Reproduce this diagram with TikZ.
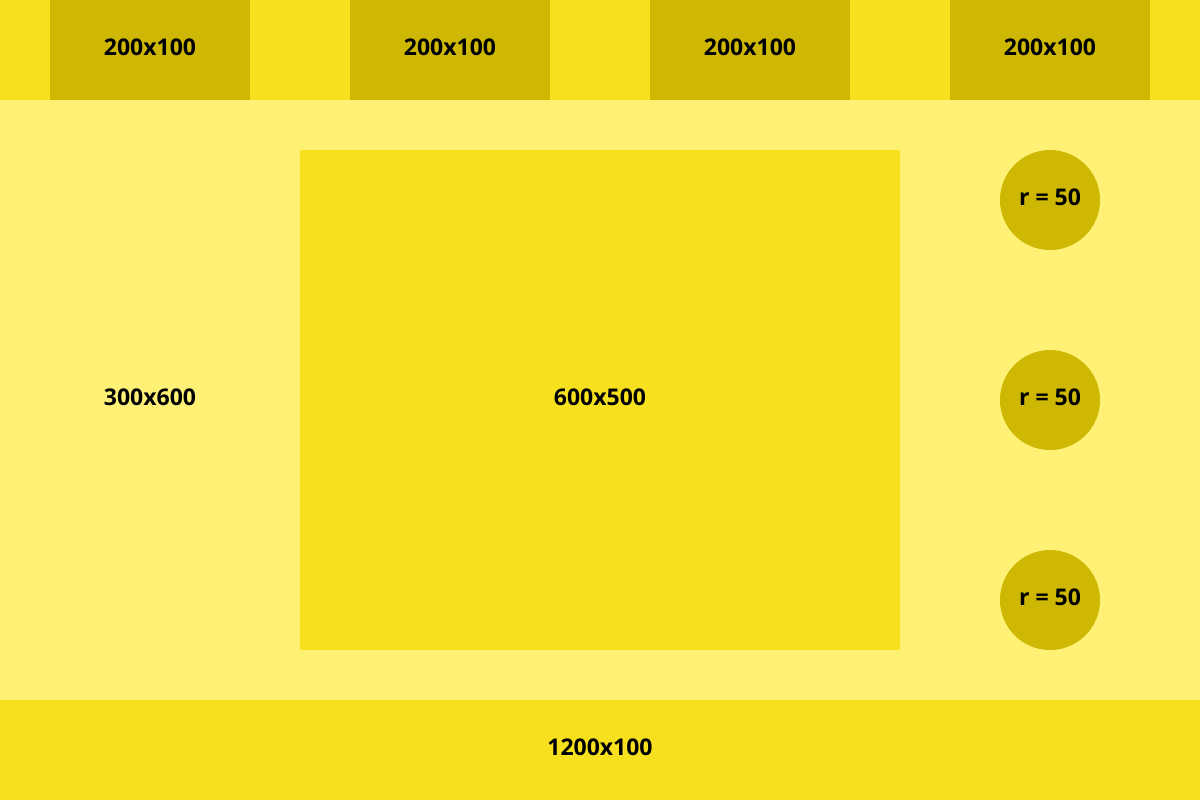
\documentclass[tikz,border=0pt]{standalone}
\usepackage{fontspec}
\setmainfont{Open Sans}
\definecolor{ymid}{HTML}{F7E11E}
\definecolor{ydark}{HTML}{CFB803}
\definecolor{ylight}{HTML}{FFF176}
\begin{document}
\begin{tikzpicture}[x=0.5pt,y=-0.5pt,
  lbl/.style={font=\bfseries\fontsize{11.5}{13}\selectfont, text=black, text depth=3pt},
  topbox/.style={fill=ydark, draw=none, minimum width=100pt, minimum height=50pt, inner sep=0pt, lbl},
  circ/.style={circle, fill=ydark, draw=none, minimum size=50pt, inner sep=0pt, lbl}]
\useasboundingbox (0,0) rectangle (1200,800);
\fill[ymid] (0,0) rectangle (1200,100);
\fill[ylight] (0,100) rectangle (1200,700);
\fill[ymid] (0,700) rectangle (1200,800);
\node[topbox] (t1) at (150,50) {200x100};
\node[topbox] (t2) at (450,50) {200x100};
\node[topbox] (t3) at (750,50) {200x100};
\node[topbox] (t4) at (1050,50) {200x100};
\node[lbl] (left) at (150,400) {300x600};
\node[fill=ymid, minimum width=300pt, minimum height=250pt, inner sep=0pt, lbl] (center) at (600,400) {600x500};
\node[circ] (c1) at (1050,200) {r = 50};
\node[circ] (c2) at (1050,400) {r = 50};
\node[circ] (c3) at (1050,600) {r = 50};
\node[lbl] (bottom) at (600,750) {1200x100};
\end{tikzpicture}
\end{document}
